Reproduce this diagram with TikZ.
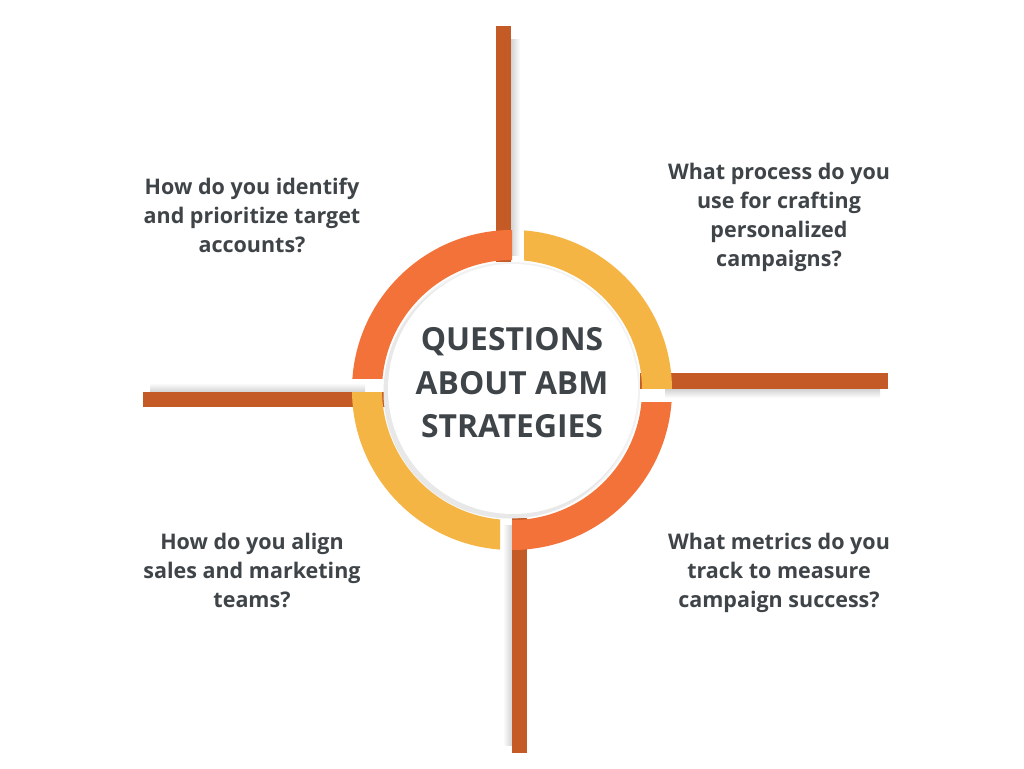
\documentclass[tikz,border=0pt]{standalone}
\usepackage{fontspec}
\setmainfont{Open Sans}
\definecolor{barbrown}{HTML}{C45A25}
\definecolor{arcorange}{HTML}{F37239}
\definecolor{arcyellow}{HTML}{F5B544}
\definecolor{txtgray}{HTML}{3F4448}
\begin{document}
\begin{tikzpicture}[x=1pt,y=-1pt,
  bar/.style={fill=barbrown},
  ring/.style={even odd rule},
  qtext/.style={align=center,text=txtgray,font=\fontsize{21.5}{29}\selectfont\bfseries},
  ctext/.style={align=center,text=txtgray,font=\fontsize{31.8}{43.5}\selectfont\bfseries}]
 \useasboundingbox[fill=white](0,0) rectangle (1024,768);
 % shadows of the bars
 \shade[left color=gray!35,right color=white](511,40) rectangle (520,255);
 \shade[top color=gray!35,bottom color=white](665,389) rectangle (880,398);
 \shade[right color=gray!35,left color=white](503,525) rectangle (512,745);
 \shade[bottom color=gray!35,top color=white](150,383) rectangle (365,392);
 % bars
 \fill[bar](496,26) rectangle (511,262);
 \fill[bar](640,373) rectangle (888,389);
 \fill[bar](512,518) rectangle (527,753);
 \fill[bar](143,392) rectangle (385,407);
 % ring quarters
 \begin{scope}
  \clip (300,200) rectangle (512,378);
  \fill[arcorange,ring](512,390) circle (160) (512,390) circle (130);
 \end{scope}
 \begin{scope}
  \clip (524,200) rectangle (700,388);
  \fill[arcyellow,ring](512,390) circle (160) (512,390) circle (130);
 \end{scope}
 \begin{scope}
  \clip (512,402) rectangle (700,580);
  \fill[arcorange,ring](512,390) circle (160) (512,390) circle (130);
 \end{scope}
 \begin{scope}
  \clip (300,392) rectangle (500,580);
  \fill[arcyellow,ring](512,390) circle (160) (512,390) circle (130);
 \end{scope}
 % inner disc
 \fill[gray!10](512,390) circle (128);
 \fill[gray!18](510,392) circle (126.5);
 \fill[white](513,389) circle (125);
 % texts
 \node[ctext] (centre) at (512,383) {QUESTIONS\\ABOUT ABM\\STRATEGIES};
 \node[qtext] (q1) at (252,215) {How do you identify\\and prioritize target\\accounts?};
 \node[qtext] (q2) at (779,217) {What process do you\\use for crafting\\personalized\\campaigns?};
 \node[qtext] (q3) at (252,570) {How do you align\\sales and marketing\\teams?};
 \node[qtext] (q4) at (779,573) {What metrics do you\\track to measure\\campaign success?};
\end{tikzpicture}
\end{document}
